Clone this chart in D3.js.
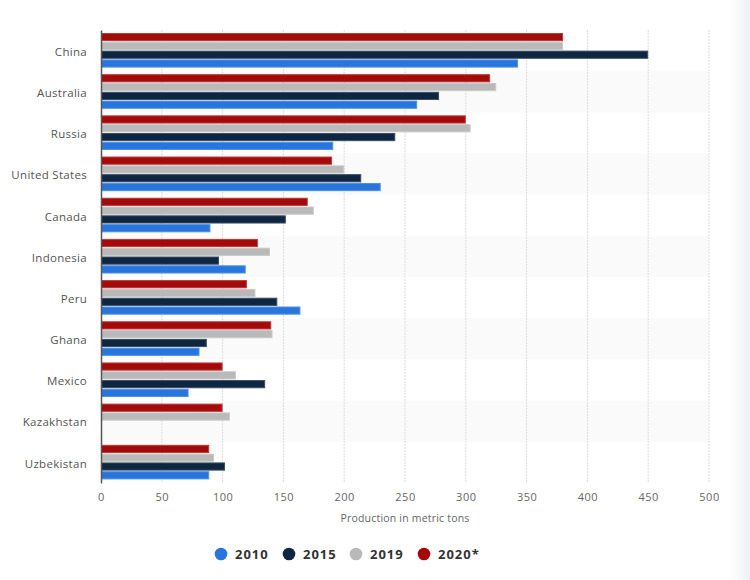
<!DOCTYPE html>
<html>
<head>
<meta charset="utf-8">
<script src="https://cdn.jsdelivr.net/npm/d3@7"></script>
<style>
  html, body { margin: 0; padding: 0; background: #fff; }
  svg { display: block; font-family: "Open Sans", "Noto Sans", sans-serif; }
</style>
</head>
<body>
<svg id="chart" width="750" height="580"></svg>
<script>
const categories = ["China", "Australia", "Russia", "United States", "Canada", "Indonesia", "Peru", "Ghana", "Mexico", "Kazakhstan", "Uzbekistan"];
const seriesNames = ["2010", "2015", "2019", "2020*"];
const values2010 = [343, 260, 191, 230, 90, 119, 164, 81, 72, null, 89];
const values2015 = [450, 278, 242, 214, 152, 97, 145, 87, 135, null, 102];
const values2019 = [380, 325, 304, 200, 175, 139, 127, 141, 111, 106, 93];
const values2020 = [380, 320, 300, 190, 170, 129, 120, 140, 100, 100, 89];
const xTicks = [0, 50, 100, 150, 200, 250, 300, 350, 400, 450, 500];
const xTitle = "Production in metric tons";

const seriesValues = [values2010, values2015, values2019, values2020];
const colors = ["#2876dd", "#0f2641", "#b9b9b9", "#a50a0a"];
const strokes = ["#4f90e6", "#3a4d63", "#c9c9c9", "#b83a3a"];

const svg = d3.select("#chart");

const x = d3.scaleLinear().domain([0, 500]).range([101, 709]);
const y = d3.scaleBand().domain(categories).range([30, 483]).padding(0);
// draw order top to bottom: 2020*, 2019, 2015, 2010
const inner = d3.scaleBand().domain(["2020*", "2019", "2015", "2010"]).range([3, 37.6]).paddingInner(0.07);

// right-edge soft shadow
const defs = svg.append("defs");
const grad = defs.append("linearGradient").attr("id", "shade").attr("x1", "0").attr("x2", "1");
grad.append("stop").attr("offset", "0").attr("stop-color", "#f4f5f7").attr("stop-opacity", 0);
grad.append("stop").attr("offset", "1").attr("stop-color", "#eef0f3").attr("stop-opacity", 1);
svg.append("rect").attr("x", 728).attr("y", 0).attr("width", 22).attr("height", 580).attr("fill", "url(#shade)");

// alternating stripes
svg.append("g").selectAll("rect")
  .data(categories.filter((d, i) => i % 2 === 1))
  .join("rect")
  .attr("x", x(0)).attr("y", d => y(d))
  .attr("width", x(500) - x(0)).attr("height", y.bandwidth())
  .attr("fill", "#fafafa");

// gridlines
svg.append("g").selectAll("line")
  .data(xTicks.filter(t => t > 0))
  .join("line")
  .attr("x1", d => x(d)).attr("x2", d => x(d))
  .attr("y1", 30).attr("y2", 483)
  .attr("stroke", "#dcdcdc").attr("stroke-width", 1)
  .attr("stroke-dasharray", "2,1");

// bars
const groups = svg.append("g").selectAll("g")
  .data(categories)
  .join("g")
  .attr("transform", d => `translate(0,${y(d)})`);

groups.selectAll("rect")
  .data((c, ci) => seriesNames.map((s, si) => ({ s, si, v: seriesValues[si][ci] })).filter(d => d.v != null))
  .join("rect")
  .attr("x", x(0) + 0.5)
  .attr("y", d => inner(d.s) + 0.5)
  .attr("width", d => Math.max(0, x(d.v) - x(0) - 1))
  .attr("height", inner.bandwidth() - 1)
  .attr("fill", d => colors[d.si])
  .attr("stroke", d => strokes[d.si])
  .attr("stroke-width", 1);

// y axis
const yAxis = d3.axisLeft(y).tickSize(0).tickPadding(14);
const yg = svg.append("g").attr("transform", `translate(${x(0)},0)`).call(yAxis);
yg.select(".domain").attr("stroke", "#555").attr("stroke-width", 1.5);
yg.selectAll("text")
  .attr("font-size", 11.5).attr("fill", "#555")
  .attr("letter-spacing", "0.3px")
  .attr("dy", "0.45em")
  .attr("font-family", "'Open Sans', sans-serif");

// x axis (labels only)
const xAxis = d3.axisBottom(x).tickValues(xTicks).tickSize(0).tickPadding(10);
const xg = svg.append("g").attr("transform", `translate(0,483)`).call(xAxis);
xg.select(".domain").remove();
xg.selectAll("text")
  .attr("font-size", 11).attr("fill", "#666")
  .attr("letter-spacing", "0.5px")
  .attr("font-family", "'Open Sans', sans-serif");

svg.append("text")
  .attr("x", (x(0) + x(500)) / 2).attr("y", 522)
  .attr("text-anchor", "middle")
  .attr("font-size", 10.5).attr("fill", "#666")
  .attr("letter-spacing", "0.2px")
  .attr("font-family", "'Open Sans', sans-serif")
  .text(xTitle);

// legend
const legendX = [221, 289, 356, 424];
const legend = svg.append("g").selectAll("g")
  .data(seriesNames)
  .join("g")
  .attr("transform", (d, i) => `translate(${legendX[i]},554)`);
legend.append("circle").attr("r", 6.3).attr("fill", (d, i) => colors[i]);
legend.append("text")
  .attr("x", 14).attr("y", 5)
  .attr("font-size", 13).attr("font-weight", "bold")
  .attr("letter-spacing", "1px")
  .attr("fill", "#333")
  .attr("font-family", "'Open Sans', sans-serif")
  .text(d => d);
</script>
</body>
</html>
